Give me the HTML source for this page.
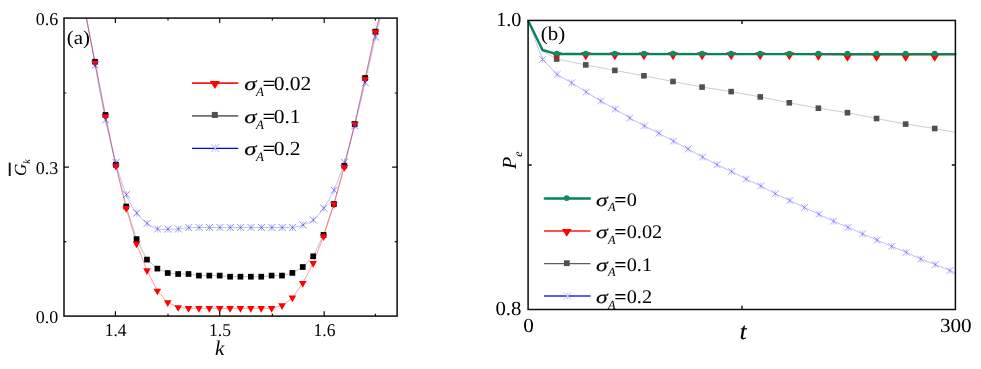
<!DOCTYPE html>
<html><head><meta charset="utf-8"><title>chart</title>
<style>
html,body{margin:0;padding:0;background:#fff;}
body{width:981px;height:369px;overflow:hidden;font-family:"Liberation Serif",serif;}
svg{display:block;font-family:"Liberation Serif",serif;will-change:transform;}
svg text{fill:#000;text-rendering:geometricPrecision;}
</style></head><body>
<svg width="981" height="369" viewBox="0 0 981 369">
<defs><clipPath id="clipL"><rect x="64.0" y="18.1" width="333.10" height="298.00"/></clipPath></defs>
<rect width="981" height="369" fill="#fff"/>
<g clip-path="url(#clipL)">
<path d="M84.11 8.10L95.05 61.70L105.44 115.00L115.82 164.70L126.21 206.50L136.59 239.10L146.98 259.60L157.37 268.60L167.75 273.00L178.14 274.00L188.52 274.00L198.91 275.60L209.30 275.60L219.68 275.60L230.07 276.70L240.45 276.70L250.84 276.70L261.23 276.70L271.61 275.60L282.00 275.60L292.38 272.90L302.77 267.00L313.16 256.30L323.54 234.90L333.93 204.00L344.31 165.70L354.70 124.00L365.09 78.00L375.47 31.60L382.08 8.10" stroke="#4a4a4a" stroke-width="0.55" fill="none" opacity="0.62"/>
<path d="M84.47 8.10L95.05 63.00L105.44 116.40L115.82 166.00L126.21 208.30L136.59 243.70L146.98 270.50L157.37 290.90L167.75 302.50L178.14 307.40L188.52 308.30L198.91 308.30L209.30 308.30L219.68 308.30L230.07 308.30L240.45 308.30L250.84 308.30L261.23 308.30L271.61 308.30L282.00 305.60L292.38 297.80L302.77 283.20L313.16 263.30L323.54 236.50L333.93 204.20L344.31 167.30L354.70 124.00L365.09 79.20L375.47 31.90L382.13 8.10" stroke="#ff0000" stroke-width="0.55" fill="none" opacity="0.7"/>
<path d="M85.07 8.10C86.73 17.62 91.66 46.58 95.05 65.20C98.44 83.82 101.97 103.58 105.44 119.80C108.90 136.02 112.36 150.03 115.82 162.50C119.28 174.97 122.75 186.17 126.21 194.60C129.67 203.03 133.13 208.32 136.59 213.10C140.06 217.88 143.52 220.65 146.98 223.30C150.44 225.95 153.90 228.02 157.37 229.00C160.83 229.98 164.29 229.20 167.75 229.20C171.21 229.20 174.68 229.27 178.14 229.00C181.60 228.73 185.06 227.85 188.52 227.60C191.99 227.35 195.45 227.52 198.91 227.50C202.37 227.48 205.83 227.50 209.30 227.50C212.76 227.50 216.22 227.50 219.68 227.50C223.14 227.50 226.61 227.50 230.07 227.50C233.53 227.50 236.99 227.50 240.45 227.50C243.92 227.50 247.38 227.50 250.84 227.50C254.30 227.50 257.76 227.50 261.23 227.50C264.69 227.50 268.15 227.50 271.61 227.50C275.07 227.50 278.54 227.50 282.00 227.50C285.46 227.50 288.92 227.93 292.38 227.50C295.85 227.07 299.31 226.15 302.77 224.90C306.23 223.65 309.69 222.78 313.16 220.00C316.62 217.22 320.08 213.17 323.54 208.20C327.00 203.23 330.47 197.87 333.93 190.20C337.39 182.53 340.85 172.95 344.31 162.20C347.78 151.45 351.24 138.95 354.70 125.70C358.16 112.45 361.62 97.45 365.09 82.70C368.55 67.95 372.46 49.63 375.47 37.20C378.48 24.77 381.87 12.95 383.15 8.10" stroke="#2a2af0" stroke-width="0.55" fill="none" opacity="0.55"/>
</g>
<rect x="92.20" y="58.85" width="5.70" height="5.70" fill="#000"/>
<rect x="102.59" y="112.15" width="5.70" height="5.70" fill="#000"/>
<rect x="112.97" y="161.85" width="5.70" height="5.70" fill="#000"/>
<rect x="123.36" y="203.65" width="5.70" height="5.70" fill="#000"/>
<rect x="133.74" y="236.25" width="5.70" height="5.70" fill="#000"/>
<rect x="144.13" y="256.75" width="5.70" height="5.70" fill="#000"/>
<rect x="154.52" y="265.75" width="5.70" height="5.70" fill="#000"/>
<rect x="164.90" y="270.15" width="5.70" height="5.70" fill="#000"/>
<rect x="175.29" y="271.15" width="5.70" height="5.70" fill="#000"/>
<rect x="185.67" y="271.15" width="5.70" height="5.70" fill="#000"/>
<rect x="196.06" y="272.75" width="5.70" height="5.70" fill="#000"/>
<rect x="206.45" y="272.75" width="5.70" height="5.70" fill="#000"/>
<rect x="216.83" y="272.75" width="5.70" height="5.70" fill="#000"/>
<rect x="227.22" y="273.85" width="5.70" height="5.70" fill="#000"/>
<rect x="237.60" y="273.85" width="5.70" height="5.70" fill="#000"/>
<rect x="247.99" y="273.85" width="5.70" height="5.70" fill="#000"/>
<rect x="258.38" y="273.85" width="5.70" height="5.70" fill="#000"/>
<rect x="268.76" y="272.75" width="5.70" height="5.70" fill="#000"/>
<rect x="279.15" y="272.75" width="5.70" height="5.70" fill="#000"/>
<rect x="289.53" y="270.05" width="5.70" height="5.70" fill="#000"/>
<rect x="299.92" y="264.15" width="5.70" height="5.70" fill="#000"/>
<rect x="310.31" y="253.45" width="5.70" height="5.70" fill="#000"/>
<rect x="320.69" y="232.05" width="5.70" height="5.70" fill="#000"/>
<rect x="331.08" y="201.15" width="5.70" height="5.70" fill="#000"/>
<rect x="341.46" y="162.85" width="5.70" height="5.70" fill="#000"/>
<rect x="351.85" y="121.15" width="5.70" height="5.70" fill="#000"/>
<rect x="362.24" y="75.15" width="5.70" height="5.70" fill="#000"/>
<rect x="372.62" y="28.75" width="5.70" height="5.70" fill="#000"/>
<path d="M91.25 60.77H98.85L95.05 67.47Z" fill="#ff0000"/>
<path d="M101.64 114.17H109.24L105.44 120.87Z" fill="#ff0000"/>
<path d="M112.02 163.77H119.62L115.82 170.47Z" fill="#ff0000"/>
<path d="M122.41 206.07H130.01L126.21 212.77Z" fill="#ff0000"/>
<path d="M132.79 241.47H140.39L136.59 248.17Z" fill="#ff0000"/>
<path d="M143.18 268.27H150.78L146.98 274.97Z" fill="#ff0000"/>
<path d="M153.57 288.67H161.17L157.37 295.37Z" fill="#ff0000"/>
<path d="M163.95 300.27H171.55L167.75 306.97Z" fill="#ff0000"/>
<path d="M174.34 305.17H181.94L178.14 311.87Z" fill="#ff0000"/>
<path d="M184.72 306.07H192.32L188.52 312.77Z" fill="#ff0000"/>
<path d="M195.11 306.07H202.71L198.91 312.77Z" fill="#ff0000"/>
<path d="M205.50 306.07H213.10L209.30 312.77Z" fill="#ff0000"/>
<path d="M215.88 306.07H223.48L219.68 312.77Z" fill="#ff0000"/>
<path d="M226.27 306.07H233.87L230.07 312.77Z" fill="#ff0000"/>
<path d="M236.65 306.07H244.25L240.45 312.77Z" fill="#ff0000"/>
<path d="M247.04 306.07H254.64L250.84 312.77Z" fill="#ff0000"/>
<path d="M257.43 306.07H265.03L261.23 312.77Z" fill="#ff0000"/>
<path d="M267.81 306.07H275.41L271.61 312.77Z" fill="#ff0000"/>
<path d="M278.20 303.37H285.80L282.00 310.07Z" fill="#ff0000"/>
<path d="M288.58 295.57H296.18L292.38 302.27Z" fill="#ff0000"/>
<path d="M298.97 280.97H306.57L302.77 287.67Z" fill="#ff0000"/>
<path d="M309.36 261.07H316.96L313.16 267.77Z" fill="#ff0000"/>
<path d="M319.74 234.27H327.34L323.54 240.97Z" fill="#ff0000"/>
<path d="M330.13 201.97H337.73L333.93 208.67Z" fill="#ff0000"/>
<path d="M340.51 165.07H348.11L344.31 171.77Z" fill="#ff0000"/>
<path d="M350.90 121.77H358.50L354.70 128.47Z" fill="#ff0000"/>
<path d="M361.29 76.97H368.89L365.09 83.67Z" fill="#ff0000"/>
<path d="M371.67 29.67H379.27L375.47 36.37Z" fill="#ff0000"/>
<path d="M91.75 61.70L98.75 68.70M91.75 68.70L98.75 61.70" stroke="#4040d8" stroke-width="0.58" fill="none" opacity="1"/><path d="M95.25 61.70V68.70" stroke="#4040d8" stroke-width="0.46" fill="none" opacity="0.75"/>
<path d="M102.14 116.30L109.14 123.30M102.14 123.30L109.14 116.30" stroke="#4040d8" stroke-width="0.58" fill="none" opacity="1"/><path d="M105.64 116.30V123.30" stroke="#4040d8" stroke-width="0.46" fill="none" opacity="0.75"/>
<path d="M112.52 159.00L119.52 166.00M112.52 166.00L119.52 159.00" stroke="#4040d8" stroke-width="0.58" fill="none" opacity="1"/><path d="M116.02 159.00V166.00" stroke="#4040d8" stroke-width="0.46" fill="none" opacity="0.75"/>
<path d="M122.91 191.10L129.91 198.10M122.91 198.10L129.91 191.10" stroke="#4040d8" stroke-width="0.58" fill="none" opacity="1"/><path d="M126.41 191.10V198.10" stroke="#4040d8" stroke-width="0.46" fill="none" opacity="0.75"/>
<path d="M133.29 209.60L140.29 216.60M133.29 216.60L140.29 209.60" stroke="#4040d8" stroke-width="0.58" fill="none" opacity="1"/><path d="M136.79 209.60V216.60" stroke="#4040d8" stroke-width="0.46" fill="none" opacity="0.75"/>
<path d="M143.68 219.80L150.68 226.80M143.68 226.80L150.68 219.80" stroke="#4040d8" stroke-width="0.58" fill="none" opacity="1"/><path d="M147.18 219.80V226.80" stroke="#4040d8" stroke-width="0.46" fill="none" opacity="0.75"/>
<path d="M154.07 225.50L161.07 232.50M154.07 232.50L161.07 225.50" stroke="#4040d8" stroke-width="0.58" fill="none" opacity="1"/><path d="M157.57 225.50V232.50" stroke="#4040d8" stroke-width="0.46" fill="none" opacity="0.75"/>
<path d="M164.45 225.70L171.45 232.70M164.45 232.70L171.45 225.70" stroke="#4040d8" stroke-width="0.58" fill="none" opacity="1"/><path d="M167.95 225.70V232.70" stroke="#4040d8" stroke-width="0.46" fill="none" opacity="0.75"/>
<path d="M174.84 225.50L181.84 232.50M174.84 232.50L181.84 225.50" stroke="#4040d8" stroke-width="0.58" fill="none" opacity="1"/><path d="M178.34 225.50V232.50" stroke="#4040d8" stroke-width="0.46" fill="none" opacity="0.75"/>
<path d="M185.22 224.10L192.22 231.10M185.22 231.10L192.22 224.10" stroke="#4040d8" stroke-width="0.58" fill="none" opacity="1"/><path d="M188.72 224.10V231.10" stroke="#4040d8" stroke-width="0.46" fill="none" opacity="0.75"/>
<path d="M195.61 224.00L202.61 231.00M195.61 231.00L202.61 224.00" stroke="#4040d8" stroke-width="0.58" fill="none" opacity="1"/><path d="M199.11 224.00V231.00" stroke="#4040d8" stroke-width="0.46" fill="none" opacity="0.75"/>
<path d="M206.00 224.00L213.00 231.00M206.00 231.00L213.00 224.00" stroke="#4040d8" stroke-width="0.58" fill="none" opacity="1"/><path d="M209.50 224.00V231.00" stroke="#4040d8" stroke-width="0.46" fill="none" opacity="0.75"/>
<path d="M216.38 224.00L223.38 231.00M216.38 231.00L223.38 224.00" stroke="#4040d8" stroke-width="0.58" fill="none" opacity="1"/><path d="M219.88 224.00V231.00" stroke="#4040d8" stroke-width="0.46" fill="none" opacity="0.75"/>
<path d="M226.77 224.00L233.77 231.00M226.77 231.00L233.77 224.00" stroke="#4040d8" stroke-width="0.58" fill="none" opacity="1"/><path d="M230.27 224.00V231.00" stroke="#4040d8" stroke-width="0.46" fill="none" opacity="0.75"/>
<path d="M237.15 224.00L244.15 231.00M237.15 231.00L244.15 224.00" stroke="#4040d8" stroke-width="0.58" fill="none" opacity="1"/><path d="M240.65 224.00V231.00" stroke="#4040d8" stroke-width="0.46" fill="none" opacity="0.75"/>
<path d="M247.54 224.00L254.54 231.00M247.54 231.00L254.54 224.00" stroke="#4040d8" stroke-width="0.58" fill="none" opacity="1"/><path d="M251.04 224.00V231.00" stroke="#4040d8" stroke-width="0.46" fill="none" opacity="0.75"/>
<path d="M257.93 224.00L264.93 231.00M257.93 231.00L264.93 224.00" stroke="#4040d8" stroke-width="0.58" fill="none" opacity="1"/><path d="M261.43 224.00V231.00" stroke="#4040d8" stroke-width="0.46" fill="none" opacity="0.75"/>
<path d="M268.31 224.00L275.31 231.00M268.31 231.00L275.31 224.00" stroke="#4040d8" stroke-width="0.58" fill="none" opacity="1"/><path d="M271.81 224.00V231.00" stroke="#4040d8" stroke-width="0.46" fill="none" opacity="0.75"/>
<path d="M278.70 224.00L285.70 231.00M278.70 231.00L285.70 224.00" stroke="#4040d8" stroke-width="0.58" fill="none" opacity="1"/><path d="M282.20 224.00V231.00" stroke="#4040d8" stroke-width="0.46" fill="none" opacity="0.75"/>
<path d="M289.08 224.00L296.08 231.00M289.08 231.00L296.08 224.00" stroke="#4040d8" stroke-width="0.58" fill="none" opacity="1"/><path d="M292.58 224.00V231.00" stroke="#4040d8" stroke-width="0.46" fill="none" opacity="0.75"/>
<path d="M299.47 221.40L306.47 228.40M299.47 228.40L306.47 221.40" stroke="#4040d8" stroke-width="0.58" fill="none" opacity="1"/><path d="M302.97 221.40V228.40" stroke="#4040d8" stroke-width="0.46" fill="none" opacity="0.75"/>
<path d="M309.86 216.50L316.86 223.50M309.86 223.50L316.86 216.50" stroke="#4040d8" stroke-width="0.58" fill="none" opacity="1"/><path d="M313.36 216.50V223.50" stroke="#4040d8" stroke-width="0.46" fill="none" opacity="0.75"/>
<path d="M320.24 204.70L327.24 211.70M320.24 211.70L327.24 204.70" stroke="#4040d8" stroke-width="0.58" fill="none" opacity="1"/><path d="M323.74 204.70V211.70" stroke="#4040d8" stroke-width="0.46" fill="none" opacity="0.75"/>
<path d="M330.63 186.70L337.63 193.70M330.63 193.70L337.63 186.70" stroke="#4040d8" stroke-width="0.58" fill="none" opacity="1"/><path d="M334.13 186.70V193.70" stroke="#4040d8" stroke-width="0.46" fill="none" opacity="0.75"/>
<path d="M341.01 158.70L348.01 165.70M341.01 165.70L348.01 158.70" stroke="#4040d8" stroke-width="0.58" fill="none" opacity="1"/><path d="M344.51 158.70V165.70" stroke="#4040d8" stroke-width="0.46" fill="none" opacity="0.75"/>
<path d="M351.40 122.20L358.40 129.20M351.40 129.20L358.40 122.20" stroke="#4040d8" stroke-width="0.58" fill="none" opacity="1"/><path d="M354.90 122.20V129.20" stroke="#4040d8" stroke-width="0.46" fill="none" opacity="0.75"/>
<path d="M361.79 79.20L368.79 86.20M361.79 86.20L368.79 79.20" stroke="#4040d8" stroke-width="0.58" fill="none" opacity="1"/><path d="M365.29 79.20V86.20" stroke="#4040d8" stroke-width="0.46" fill="none" opacity="0.75"/>
<path d="M372.17 33.70L379.17 40.70M372.17 40.70L379.17 33.70" stroke="#4040d8" stroke-width="0.58" fill="none" opacity="1"/><path d="M375.67 33.70V40.70" stroke="#4040d8" stroke-width="0.46" fill="none" opacity="0.75"/>
<rect x="64.0" y="18.1" width="333.10" height="298.00" fill="none" stroke="#0c0c0c" stroke-width="1.5"/>
<path d="M115.40 316.1v-4.8M115.40 18.1v4.8M168.00 316.1v-2.4M168.00 18.1v2.4M219.70 316.1v-4.8M219.70 18.1v4.8M272.35 316.1v-2.4M272.35 18.1v2.4M324.20 316.1v-4.8M324.20 18.1v4.8M375.40 316.1v-2.4M375.40 18.1v2.4M64.0 241.60h2.3M397.1 241.60h-2.3M64.0 167.10h5.0M397.1 167.10h-5.0M64.0 93.00h2.3M397.1 93.00h-2.3" stroke="#0c0c0c" stroke-width="1.2" fill="none"/>
<text transform="translate(58.20 25.00) scale(1.0 1)" font-size="18.0" text-anchor="end"  style="">0.6</text>
<text transform="translate(58.20 174.00) scale(1.0 1)" font-size="18.0" text-anchor="end"  style="">0.3</text>
<text transform="translate(58.20 323.00) scale(1.0 1)" font-size="18.0" text-anchor="end"  style="">0.0</text>
<text transform="translate(115.65 335.70) scale(0.975 1)" font-size="18.0" text-anchor="middle"  style="">1.4</text>
<text transform="translate(219.95 335.70) scale(0.975 1)" font-size="18.0" text-anchor="middle"  style="">1.5</text>
<text transform="translate(324.45 335.70) scale(0.975 1)" font-size="18.0" text-anchor="middle"  style="">1.6</text>
<text transform="translate(219.50 355.30) scale(1.0 1)" font-size="20.8" text-anchor="middle"  style="font-style:italic">k</text>
<text transform="translate(66.80 43.90) scale(1.075 1)" font-size="19.5" text-anchor="start"  style="">(a)</text>
<g transform="translate(25.6,176) rotate(-90)"><text x="0" y="0" font-size="17" font-style="italic">G<tspan font-size="10" dy="4">k</tspan></text><path d="M0 -15.9H13.4" stroke="#111" stroke-width="1.9"/></g>
<path d="M192.0 83.1H238.2" stroke="#ff1414" stroke-width="1.55"/>
<path d="M209.80 81.10H220.00L214.90 88.90Z" fill="#ff0000"/>
<path d="M192.0 115.85H238.2" stroke="#6e6e6e" stroke-width="1.6"/>
<rect x="211.80" y="111.95" width="6.00" height="6.00" fill="#505050"/>
<path d="M192.0 148.35H238.2" stroke="#0000f0" stroke-width="1.25"/>
<path d="M211.40 144.30L219.20 152.10M211.40 152.10L219.20 144.30" stroke="#a4a4fa" stroke-width="0.9" fill="none" opacity="1"/><path d="M215.30 144.30V152.10" stroke="#a4a4fa" stroke-width="0.72" fill="none" opacity="0.75"/>
<circle cx="215.3" cy="148.3" r="1.0" fill="#c8c8f4"/>
<text transform="translate(244.18 89.70) scale(1.3 1)" font-size="19.00" font-style="italic" font-weight="normal" stroke="#000" stroke-width="0.18">σ</text><text transform="translate(256.12 95.70) scale(1.0 1)" font-size="13" font-style="italic">A</text><text transform="translate(262.47 89.70) scale(1.13 1)" font-size="20.0" font-weight="bold">=</text><text transform="translate(273.68 89.70) scale(1.075 1)" font-size="20.0">0.02</text>
<text transform="translate(244.18 122.70) scale(1.3 1)" font-size="19.00" font-style="italic" font-weight="normal" stroke="#000" stroke-width="0.18">σ</text><text transform="translate(256.12 128.70) scale(1.0 1)" font-size="13" font-style="italic">A</text><text transform="translate(262.47 122.70) scale(1.13 1)" font-size="20.0" font-weight="bold">=</text><text transform="translate(273.68 122.70) scale(1.075 1)" font-size="20.0">0.1</text>
<text transform="translate(244.18 155.30) scale(1.3 1)" font-size="19.00" font-style="italic" font-weight="normal" stroke="#000" stroke-width="0.18">σ</text><text transform="translate(256.12 161.30) scale(1.0 1)" font-size="13" font-style="italic">A</text><text transform="translate(262.47 155.30) scale(1.13 1)" font-size="20.0" font-weight="bold">=</text><text transform="translate(273.68 155.30) scale(1.075 1)" font-size="20.0">0.2</text>
<path d="M528.10 20.45L542.55 59.50L557.10 74.50L571.64 82.80L586.19 92.00L600.74 101.00L615.29 109.10L629.84 118.00L644.38 125.90L658.93 133.30L673.48 141.10L688.03 149.00L702.58 157.10L717.12 164.70L731.67 171.50L746.22 179.10L760.77 185.90L775.32 193.70L789.86 200.50L804.41 207.50L818.96 214.30L833.51 221.20L848.06 227.40L862.60 233.90L877.15 240.10L891.70 246.40L906.25 252.30L920.80 259.10L935.34 264.50L949.89 270.50L955.40 273.00" stroke="#4848ff" stroke-width="0.6" fill="none" opacity="0.62"/>
<path d="M528.10 20.45L542.55 51.20L556.68 59.00L585.76 64.90L614.84 70.40L643.92 75.80L673.00 81.50L702.08 87.10L731.16 91.60L760.24 96.90L789.32 102.80L818.40 108.20L847.48 112.70L876.56 118.50L905.64 124.10L934.72 128.50L955.40 132.30" stroke="#4a4a4a" stroke-width="0.55" fill="none" opacity="0.5"/>
<path d="M528.10 20.45L542.55 50.40L556.68 54.30L585.76 54.30L614.84 54.30L643.92 54.30L673.00 54.30L702.08 54.30L731.16 54.30L760.24 54.30L789.32 54.30L818.40 54.90L847.48 55.55L876.56 55.55L905.64 55.55L934.72 55.55L955.40 55.60" stroke="#ff0000" stroke-width="0.55" fill="none" opacity="0.7"/>
<path d="M539.15 56.10L545.95 62.90M539.15 62.90L545.95 56.10" stroke="#5858ff" stroke-width="0.58" fill="none" opacity="0.95"/><path d="M542.55 56.10V62.90" stroke="#5858ff" stroke-width="0.46" fill="none" opacity="0.71"/>
<path d="M553.70 71.10L560.50 77.90M553.70 77.90L560.50 71.10" stroke="#5858ff" stroke-width="0.58" fill="none" opacity="0.95"/><path d="M557.10 71.10V77.90" stroke="#5858ff" stroke-width="0.46" fill="none" opacity="0.71"/>
<path d="M568.24 79.40L575.04 86.20M568.24 86.20L575.04 79.40" stroke="#5858ff" stroke-width="0.58" fill="none" opacity="0.95"/><path d="M571.64 79.40V86.20" stroke="#5858ff" stroke-width="0.46" fill="none" opacity="0.71"/>
<path d="M582.79 88.60L589.59 95.40M582.79 95.40L589.59 88.60" stroke="#5858ff" stroke-width="0.58" fill="none" opacity="0.95"/><path d="M586.19 88.60V95.40" stroke="#5858ff" stroke-width="0.46" fill="none" opacity="0.71"/>
<path d="M597.34 97.60L604.14 104.40M597.34 104.40L604.14 97.60" stroke="#5858ff" stroke-width="0.58" fill="none" opacity="0.95"/><path d="M600.74 97.60V104.40" stroke="#5858ff" stroke-width="0.46" fill="none" opacity="0.71"/>
<path d="M611.89 105.70L618.69 112.50M611.89 112.50L618.69 105.70" stroke="#5858ff" stroke-width="0.58" fill="none" opacity="0.95"/><path d="M615.29 105.70V112.50" stroke="#5858ff" stroke-width="0.46" fill="none" opacity="0.71"/>
<path d="M626.44 114.60L633.24 121.40M626.44 121.40L633.24 114.60" stroke="#5858ff" stroke-width="0.58" fill="none" opacity="0.95"/><path d="M629.84 114.60V121.40" stroke="#5858ff" stroke-width="0.46" fill="none" opacity="0.71"/>
<path d="M640.98 122.50L647.78 129.30M640.98 129.30L647.78 122.50" stroke="#5858ff" stroke-width="0.58" fill="none" opacity="0.95"/><path d="M644.38 122.50V129.30" stroke="#5858ff" stroke-width="0.46" fill="none" opacity="0.71"/>
<path d="M655.53 129.90L662.33 136.70M655.53 136.70L662.33 129.90" stroke="#5858ff" stroke-width="0.58" fill="none" opacity="0.95"/><path d="M658.93 129.90V136.70" stroke="#5858ff" stroke-width="0.46" fill="none" opacity="0.71"/>
<path d="M670.08 137.70L676.88 144.50M670.08 144.50L676.88 137.70" stroke="#5858ff" stroke-width="0.58" fill="none" opacity="0.95"/><path d="M673.48 137.70V144.50" stroke="#5858ff" stroke-width="0.46" fill="none" opacity="0.71"/>
<path d="M684.63 145.60L691.43 152.40M684.63 152.40L691.43 145.60" stroke="#5858ff" stroke-width="0.58" fill="none" opacity="0.95"/><path d="M688.03 145.60V152.40" stroke="#5858ff" stroke-width="0.46" fill="none" opacity="0.71"/>
<path d="M699.18 153.70L705.98 160.50M699.18 160.50L705.98 153.70" stroke="#5858ff" stroke-width="0.58" fill="none" opacity="0.95"/><path d="M702.58 153.70V160.50" stroke="#5858ff" stroke-width="0.46" fill="none" opacity="0.71"/>
<path d="M713.72 161.30L720.52 168.10M713.72 168.10L720.52 161.30" stroke="#5858ff" stroke-width="0.58" fill="none" opacity="0.95"/><path d="M717.12 161.30V168.10" stroke="#5858ff" stroke-width="0.46" fill="none" opacity="0.71"/>
<path d="M728.27 168.10L735.07 174.90M728.27 174.90L735.07 168.10" stroke="#5858ff" stroke-width="0.58" fill="none" opacity="0.95"/><path d="M731.67 168.10V174.90" stroke="#5858ff" stroke-width="0.46" fill="none" opacity="0.71"/>
<path d="M742.82 175.70L749.62 182.50M742.82 182.50L749.62 175.70" stroke="#5858ff" stroke-width="0.58" fill="none" opacity="0.95"/><path d="M746.22 175.70V182.50" stroke="#5858ff" stroke-width="0.46" fill="none" opacity="0.71"/>
<path d="M757.37 182.50L764.17 189.30M757.37 189.30L764.17 182.50" stroke="#5858ff" stroke-width="0.58" fill="none" opacity="0.95"/><path d="M760.77 182.50V189.30" stroke="#5858ff" stroke-width="0.46" fill="none" opacity="0.71"/>
<path d="M771.92 190.30L778.72 197.10M771.92 197.10L778.72 190.30" stroke="#5858ff" stroke-width="0.58" fill="none" opacity="0.95"/><path d="M775.32 190.30V197.10" stroke="#5858ff" stroke-width="0.46" fill="none" opacity="0.71"/>
<path d="M786.46 197.10L793.26 203.90M786.46 203.90L793.26 197.10" stroke="#5858ff" stroke-width="0.58" fill="none" opacity="0.95"/><path d="M789.86 197.10V203.90" stroke="#5858ff" stroke-width="0.46" fill="none" opacity="0.71"/>
<path d="M801.01 204.10L807.81 210.90M801.01 210.90L807.81 204.10" stroke="#5858ff" stroke-width="0.58" fill="none" opacity="0.95"/><path d="M804.41 204.10V210.90" stroke="#5858ff" stroke-width="0.46" fill="none" opacity="0.71"/>
<path d="M815.56 210.90L822.36 217.70M815.56 217.70L822.36 210.90" stroke="#5858ff" stroke-width="0.58" fill="none" opacity="0.95"/><path d="M818.96 210.90V217.70" stroke="#5858ff" stroke-width="0.46" fill="none" opacity="0.71"/>
<path d="M830.11 217.80L836.91 224.60M830.11 224.60L836.91 217.80" stroke="#5858ff" stroke-width="0.58" fill="none" opacity="0.95"/><path d="M833.51 217.80V224.60" stroke="#5858ff" stroke-width="0.46" fill="none" opacity="0.71"/>
<path d="M844.66 224.00L851.46 230.80M844.66 230.80L851.46 224.00" stroke="#5858ff" stroke-width="0.58" fill="none" opacity="0.95"/><path d="M848.06 224.00V230.80" stroke="#5858ff" stroke-width="0.46" fill="none" opacity="0.71"/>
<path d="M859.20 230.50L866.00 237.30M859.20 237.30L866.00 230.50" stroke="#5858ff" stroke-width="0.58" fill="none" opacity="0.95"/><path d="M862.60 230.50V237.30" stroke="#5858ff" stroke-width="0.46" fill="none" opacity="0.71"/>
<path d="M873.75 236.70L880.55 243.50M873.75 243.50L880.55 236.70" stroke="#5858ff" stroke-width="0.58" fill="none" opacity="0.95"/><path d="M877.15 236.70V243.50" stroke="#5858ff" stroke-width="0.46" fill="none" opacity="0.71"/>
<path d="M888.30 243.00L895.10 249.80M888.30 249.80L895.10 243.00" stroke="#5858ff" stroke-width="0.58" fill="none" opacity="0.95"/><path d="M891.70 243.00V249.80" stroke="#5858ff" stroke-width="0.46" fill="none" opacity="0.71"/>
<path d="M902.85 248.90L909.65 255.70M902.85 255.70L909.65 248.90" stroke="#5858ff" stroke-width="0.58" fill="none" opacity="0.95"/><path d="M906.25 248.90V255.70" stroke="#5858ff" stroke-width="0.46" fill="none" opacity="0.71"/>
<path d="M917.40 255.70L924.20 262.50M917.40 262.50L924.20 255.70" stroke="#5858ff" stroke-width="0.58" fill="none" opacity="0.95"/><path d="M920.80 255.70V262.50" stroke="#5858ff" stroke-width="0.46" fill="none" opacity="0.71"/>
<path d="M931.94 261.10L938.74 267.90M931.94 267.90L938.74 261.10" stroke="#5858ff" stroke-width="0.58" fill="none" opacity="0.95"/><path d="M935.34 261.10V267.90" stroke="#5858ff" stroke-width="0.46" fill="none" opacity="0.71"/>
<path d="M946.49 267.10L953.29 273.90M946.49 273.90L953.29 267.10" stroke="#5858ff" stroke-width="0.58" fill="none" opacity="0.95"/><path d="M949.89 267.10V273.90" stroke="#5858ff" stroke-width="0.46" fill="none" opacity="0.71"/>
<rect x="553.88" y="56.20" width="5.60" height="5.60" fill="#505050"/>
<rect x="582.96" y="62.10" width="5.60" height="5.60" fill="#505050"/>
<rect x="612.04" y="67.60" width="5.60" height="5.60" fill="#505050"/>
<rect x="641.12" y="73.00" width="5.60" height="5.60" fill="#505050"/>
<rect x="670.20" y="78.70" width="5.60" height="5.60" fill="#505050"/>
<rect x="699.28" y="84.30" width="5.60" height="5.60" fill="#505050"/>
<rect x="728.36" y="88.80" width="5.60" height="5.60" fill="#505050"/>
<rect x="757.44" y="94.10" width="5.60" height="5.60" fill="#505050"/>
<rect x="786.52" y="100.00" width="5.60" height="5.60" fill="#505050"/>
<rect x="815.60" y="105.40" width="5.60" height="5.60" fill="#505050"/>
<rect x="844.68" y="109.90" width="5.60" height="5.60" fill="#505050"/>
<rect x="873.76" y="115.70" width="5.60" height="5.60" fill="#505050"/>
<rect x="902.84" y="121.30" width="5.60" height="5.60" fill="#505050"/>
<rect x="931.92" y="125.70" width="5.60" height="5.60" fill="#505050"/>
<path d="M551.68 52.13H561.68L556.68 60.13Z" fill="#ff0000"/>
<path d="M580.76 52.13H590.76L585.76 60.13Z" fill="#ff0000"/>
<path d="M609.84 52.13H619.84L614.84 60.13Z" fill="#ff0000"/>
<path d="M638.92 52.13H648.92L643.92 60.13Z" fill="#ff0000"/>
<path d="M668.00 52.13H678.00L673.00 60.13Z" fill="#ff0000"/>
<path d="M697.08 52.13H707.08L702.08 60.13Z" fill="#ff0000"/>
<path d="M726.16 52.13H736.16L731.16 60.13Z" fill="#ff0000"/>
<path d="M755.24 52.13H765.24L760.24 60.13Z" fill="#ff0000"/>
<path d="M784.32 52.13H794.32L789.32 60.13Z" fill="#ff0000"/>
<path d="M813.40 52.83H823.40L818.40 60.83Z" fill="#ff0000"/>
<path d="M842.48 53.63H852.48L847.48 61.63Z" fill="#ff0000"/>
<path d="M871.56 53.63H881.56L876.56 61.63Z" fill="#ff0000"/>
<path d="M900.64 53.63H910.64L905.64 61.63Z" fill="#ff0000"/>
<path d="M929.72 53.63H939.72L934.72 61.63Z" fill="#ff0000"/>
<path d="M528.10 20.45L542.55 50.00L556.68 54.05L956.40 54.10" stroke="#04855a" stroke-width="2.4" fill="none" stroke-linejoin="round"/>
<circle cx="556.68" cy="53.6" r="2.85" fill="#0c8c60"/>
<circle cx="585.76" cy="53.6" r="2.85" fill="#0c8c60"/>
<circle cx="614.84" cy="53.6" r="2.85" fill="#0c8c60"/>
<circle cx="643.92" cy="53.6" r="2.85" fill="#0c8c60"/>
<circle cx="673.00" cy="53.6" r="2.85" fill="#0c8c60"/>
<circle cx="702.08" cy="53.6" r="2.85" fill="#0c8c60"/>
<circle cx="731.16" cy="53.6" r="2.85" fill="#0c8c60"/>
<circle cx="760.24" cy="53.6" r="2.85" fill="#0c8c60"/>
<circle cx="789.32" cy="53.6" r="2.85" fill="#0c8c60"/>
<circle cx="818.40" cy="53.6" r="2.85" fill="#0c8c60"/>
<circle cx="847.48" cy="53.6" r="2.85" fill="#0c8c60"/>
<circle cx="876.56" cy="53.6" r="2.85" fill="#0c8c60"/>
<circle cx="905.64" cy="53.6" r="2.85" fill="#0c8c60"/>
<circle cx="934.72" cy="53.6" r="2.85" fill="#0c8c60"/>
<rect x="528.1" y="20.45" width="427.30" height="289.05" fill="none" stroke="#0c0c0c" stroke-width="1.5"/>
<path d="M742.00 309.5v-3.7M742.00 20.45v3.5M528.1 165.00h3.6M955.4 165.00h-3.6" stroke="#0c0c0c" stroke-width="1.4" fill="none"/>
<text transform="translate(521.40 26.40) scale(1.01 1)" font-size="20" text-anchor="end"  style="">1.0</text>
<text transform="translate(521.40 315.30) scale(1.04 1)" font-size="20" text-anchor="end"  style="">0.8</text>
<text transform="translate(528.60 332.00) scale(1.06 1)" font-size="20" text-anchor="middle"  style="">0</text>
<text transform="translate(955.80 332.10) scale(1.06 1)" font-size="20" text-anchor="middle"  style="">300</text>
<text transform="translate(743.10 338.60) scale(1.04 1)" font-size="23.6" text-anchor="middle" stroke="#000" stroke-width="0.25" style="font-style:italic">t</text>
<text transform="translate(540.80 40.30) scale(1.075 1)" font-size="19.5" text-anchor="start"  style="">(b)</text>
<g transform="translate(515.6,169) rotate(-90)"><text x="0" y="0" font-size="20" font-style="italic">P<tspan font-size="12" dy="6">e</tspan></text></g>
<path d="M544.9 198.5H589.9" stroke="#04855a" stroke-width="2.45" stroke-linecap="round"/>
<circle cx="566.7" cy="198.1" r="2.95" fill="#0e8c5e"/>
<path d="M544.1 230.95H590.5" stroke="#ff1414" stroke-width="1.6"/>
<path d="M561.90 229.00H571.70L566.80 236.80Z" fill="#ff0000"/>
<path d="M544.1 263.7H590.5" stroke="#5c5c5c" stroke-width="1.3"/>
<rect x="563.90" y="260.30" width="5.80" height="5.80" fill="#505050"/>
<path d="M544.1 296.0H590.5" stroke="#2424ff" stroke-width="1.7"/>
<path d="M563.70 292.20L571.30 299.80M563.70 299.80L571.30 292.20" stroke="#b4b4ff" stroke-width="0.85" fill="none" opacity="1"/><path d="M567.50 292.20V299.80" stroke="#b4b4ff" stroke-width="0.68" fill="none" opacity="0.75"/>
<circle cx="567.5" cy="296.0" r="0.9" fill="#c8c8ff"/>
<text transform="translate(596.11 205.80) scale(1.3 1)" font-size="18.24" font-style="italic" font-weight="normal" stroke="#000" stroke-width="0.18">σ</text><text transform="translate(607.93 211.37) scale(1.0 1)" font-size="12.4" font-style="italic">A</text><text transform="translate(614.32 205.80) scale(1.13 1)" font-size="19.2" font-weight="bold">=</text><text transform="translate(626.73 205.80) scale(1.055 1)" font-size="19.2">0</text>
<text transform="translate(596.11 238.30) scale(1.3 1)" font-size="18.24" font-style="italic" font-weight="normal" stroke="#000" stroke-width="0.18">σ</text><text transform="translate(607.93 243.87) scale(1.0 1)" font-size="12.4" font-style="italic">A</text><text transform="translate(614.32 238.30) scale(1.13 1)" font-size="19.2" font-weight="bold">=</text><text transform="translate(626.73 238.30) scale(1.055 1)" font-size="19.2">0.02</text>
<text transform="translate(596.11 270.60) scale(1.3 1)" font-size="18.24" font-style="italic" font-weight="normal" stroke="#000" stroke-width="0.18">σ</text><text transform="translate(607.93 276.17) scale(1.0 1)" font-size="12.4" font-style="italic">A</text><text transform="translate(614.32 270.60) scale(1.13 1)" font-size="19.2" font-weight="bold">=</text><text transform="translate(626.73 270.60) scale(1.055 1)" font-size="19.2">0.1</text>
<text transform="translate(596.11 303.00) scale(1.3 1)" font-size="18.24" font-style="italic" font-weight="normal" stroke="#000" stroke-width="0.18">σ</text><text transform="translate(607.93 308.57) scale(1.0 1)" font-size="12.4" font-style="italic">A</text><text transform="translate(614.32 303.00) scale(1.13 1)" font-size="19.2" font-weight="bold">=</text><text transform="translate(626.73 303.00) scale(1.055 1)" font-size="19.2">0.2</text>
</svg>
</body></html>
